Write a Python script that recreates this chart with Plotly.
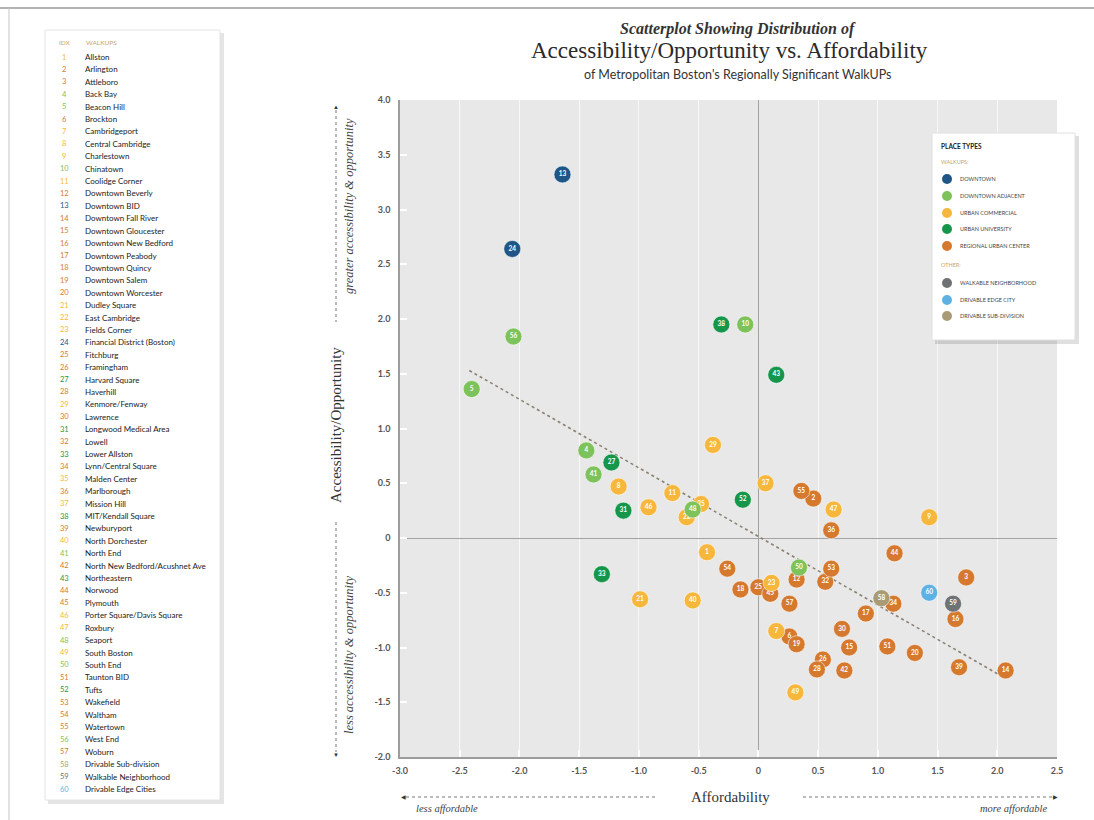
import plotly.graph_objects as go

# ---------------- data ----------------
ids = list(range(1, 61))
names = ["Allston", "Arlington", "Attleboro", "Back Bay", "Beacon Hill", "Brockton",
         "Cambridgeport", "Central Cambridge", "Charlestown", "Chinatown", "Coolidge Corner",
         "Downtown Beverly", "Downtown BID", "Downtown Fall River", "Downtown Gloucester",
         "Downtown New Bedford", "Downtown Peabody", "Downtown Quincy", "Downtown Salem",
         "Downtown Worcester", "Dudley Square", "East Cambridge", "Fields Corner",
         "Financial District (Boston)", "Fitchburg", "Framingham", "Harvard Square",
         "Haverhill", "Kenmore/Fenway", "Lawrence", "Longwood Medical Area", "Lowell",
         "Lower Allston", "Lynn/Central Square", "Malden Center", "Marlborough",
         "Mission Hill", "MIT/Kendall Square", "Newburyport", "North Dorchester",
         "North End", "North New Bedford/Acushnet Ave", "Northeastern", "Norwood",
         "Plymouth", "Porter Square/Davis Square", "Roxbury", "Seaport", "South Boston",
         "South End", "Taunton BID", "Tufts", "Wakefield", "Waltham", "Watertown",
         "West End", "Woburn", "Drivable Sub-division", "Walkable Neighborhood",
         "Drivable Edge Cities"]

D, DA, UC, UU, RUC = "DOWNTOWN", "DOWNTOWN ADJACENT", "URBAN COMMERCIAL", "URBAN UNIVERSITY", "REGIONAL URBAN CENTER"
WN, DEC, DS = "WALKABLE NEIGHBORHOOD", "DRIVABLE EDGE CITY", "DRIVABLE SUB-DIVISION"

categories = [UC, RUC, RUC, DA, DA, RUC, UC, UC, UC, DA,
              UC, RUC, D, RUC, RUC, RUC, RUC, RUC, RUC, RUC,
              UC, UC, UC, D, RUC, RUC, UU, RUC, UC, RUC,
              UU, RUC, UU, RUC, UC, RUC, UC, UU, RUC, UC,
              DA, RUC, UU, RUC, RUC, UC, UC, DA, UC, DA,
              RUC, UU, RUC, RUC, RUC, DA, RUC, DS, WN, DEC]

affordability = [-0.43, 0.46, 1.74, -1.44, -2.40, 0.26, 0.15, -1.17, 1.43, -0.11,
                 -0.72, 0.32, -1.64, 2.07, 0.76, 1.65, 0.90, -0.15, 0.32, 1.31,
                 -0.99, -0.60, 0.11, -2.06, 0.00, 0.54, -1.23, 0.49, -0.38, 0.70,
                 -1.13, 0.56, -1.31, 1.13, -0.48, 0.61, 0.06, -0.31, 1.68, -0.55,
                 -1.38, 0.72, 0.15, 1.14, 0.10, -0.92, 0.63, -0.55, 0.31, 0.34,
                 1.08, -0.13, 0.61, -0.26, 0.36, -2.05, 0.26, 1.03, 1.63, 1.43]

accessibility = [-0.13, 0.36, -0.36, 0.80, 1.36, -0.90, -0.85, 0.47, 0.19, 1.95,
                 0.41, -0.38, 3.32, -1.21, -1.00, -0.74, -0.69, -0.47, -0.97, -1.05,
                 -0.56, 0.19, -0.41, 2.64, -0.45, -1.11, 0.69, -1.20, 0.85, -0.83,
                 0.25, -0.40, -0.33, -0.60, 0.31, 0.07, 0.50, 1.95, -1.18, -0.57,
                 0.58, -1.21, 1.49, -0.14, -0.51, 0.28, 0.26, 0.26, -1.41, -0.27,
                 -0.99, 0.35, -0.28, -0.28, 0.43, 1.84, -0.60, -0.55, -0.60, -0.50]

trend_x = [-2.42, 2.05]
trend_y = [1.53, -1.27]

x_ticks = [-3.0, -2.5, -2.0, -1.5, -1.0, -0.5, 0, 0.5, 1.0, 1.5, 2.0, 2.5]
x_ticktext = ["-3.0", "-2.5", "-2.0", "-1.5", "-1.0", "-0.5", "0", "0.5", "1.0", "1.5", "2.0", "2.5"]
y_ticks = [-2.0, -1.5, -1.0, -0.5, 0, 0.5, 1.0, 1.5, 2.0, 2.5, 3.0, 3.5, 4.0]
y_ticktext = ["-2.0", "-1.5", "-1.0", "-0.5", "0", "0.5", "1.0", "1.5", "2.0", "2.5", "3.0", "3.5", "4.0"]

walkup_types = [D, DA, UC, UU, RUC]
other_types = [WN, DEC, DS]
cat_colors = {
    D: "#1d5687",
    DA: "#7dc25a",
    UC: "#f6b73c",
    UU: "#16964b",
    RUC: "#d5792f",
    WN: "#6f7275",
    DEC: "#5fb1e3",
    DS: "#a99b76",
}

# ---------------- layout helpers (pixel -> paper) ----------------
W, H = 1094, 820
L, R, T, B = 400, 1057, 100, 757
PW, PH = R - L, B - T


def px(x):
    return (x - L) / PW


def py(y):
    return (B - y) / PH


SERIF = "Liberation Serif"
SANS = "Lato"
TAN = "#c6a56b"

fig = go.Figure()

# trend line
fig.add_trace(go.Scatter(x=trend_x, y=trend_y, mode="lines",
                         line=dict(color="#8c8274", width=1.6, dash="dot"),
                         hoverinfo="skip", showlegend=False))

# points by category
for cat in [RUC, UC, DA, UU, D, WN, DEC, DS]:
    idx = [i for i, c in enumerate(categories) if c == cat]
    fig.add_trace(go.Scatter(
        x=[affordability[i] for i in idx],
        y=[accessibility[i] for i in idx],
        mode="markers+text",
        text=[str(ids[i]) for i in idx],
        textposition="middle center",
        textfont=dict(family=SANS, size=6.5, color="white", weight="bold"),
        marker=dict(size=17, color=cat_colors[cat],
                    line=dict(color="rgba(255,255,255,0.55)", width=1)),
        name=cat, showlegend=False,
        hovertext=[names[i] for i in idx], hoverinfo="text"))

shapes = []
annotations = []

# frame lines
shapes.append(dict(type="line", xref="paper", yref="paper", x0=px(0), x1=px(W), y0=py(8), y1=py(8),
                   line=dict(color="#9a9a9a", width=1.5), layer="above"))
shapes.append(dict(type="line", xref="paper", yref="paper", x0=px(9), x1=px(9), y0=py(8), y1=py(H),
                   line=dict(color="#c4c4c4", width=1), layer="above"))

# left list panel
shapes.append(dict(type="rect", xref="paper", yref="paper", x0=px(48), x1=px(224), y0=py(33), y1=py(804),
                   fillcolor="rgba(0,0,0,0.10)", line=dict(width=0), layer="below"))
shapes.append(dict(type="rect", xref="paper", yref="paper", x0=px(45), x1=px(220), y0=py(30), y1=py(800),
                   fillcolor="white", line=dict(color="#e4e4e4", width=1), layer="below"))
annotations.append(dict(xref="paper", yref="paper", x=px(57), y=py(43), text="IDX", showarrow=False,
                        xanchor="left", yanchor="middle", font=dict(family=SANS, size=6.5, color=TAN)))
annotations.append(dict(xref="paper", yref="paper", x=px(84), y=py(43), text="WALKUPS", showarrow=False,
                        xanchor="left", yanchor="middle", font=dict(family=SANS, size=6.5, color=TAN)))
row0, step = 57.0, (789.0 - 57.0) / 59
for i in range(60):
    yy = row0 + i * step
    annotations.append(dict(xref="paper", yref="paper", x=px(64), y=py(yy), text=str(ids[i]),
                            showarrow=False, xanchor="center", yanchor="middle",
                            font=dict(family=SANS, size=7.5, color=cat_colors[categories[i]])))
    annotations.append(dict(xref="paper", yref="paper", x=px(83), y=py(yy), text=names[i],
                            showarrow=False, xanchor="left", yanchor="middle",
                            font=dict(family=SANS, size=8, color="#222")))

# titles
annotations.append(dict(xref="paper", yref="paper", x=px(738), y=py(29), text="<b><i>Scatterplot Showing Distribution of</i></b>",
                        showarrow=False, xanchor="center", yanchor="middle",
                        font=dict(family=SERIF, size=16, color="#333")))
annotations.append(dict(xref="paper", yref="paper", x=px(729), y=py(51), text="Accessibility/Opportunity vs. Affordability",
                        showarrow=False, xanchor="center", yanchor="middle",
                        font=dict(family=SERIF, size=23, color="#2a2a2a")))
annotations.append(dict(xref="paper", yref="paper", x=px(738), y=py(75), text="of Metropolitan Boston's Regionally Significant WalkUPs",
                        showarrow=False, xanchor="center", yanchor="middle",
                        font=dict(family=SANS, size=12.5, color="#333")))

# x-axis title and arrows
annotations.append(dict(xref="paper", yref="paper", x=px(730), y=py(797), text="Affordability",
                        showarrow=False, xanchor="center", yanchor="middle",
                        font=dict(family=SERIF, size=15, color="#333")))
shapes.append(dict(type="line", xref="paper", yref="paper", x0=px(406), x1=px(657), y0=py(797), y1=py(797),
                   line=dict(color="#777", width=1, dash="dot")))
shapes.append(dict(type="line", xref="paper", yref="paper", x0=px(803), x1=px(1052), y0=py(797), y1=py(797),
                   line=dict(color="#777", width=1, dash="dot")))
annotations.append(dict(xref="paper", yref="paper", x=px(403), y=py(797), text="◀", showarrow=False,
                        xanchor="center", yanchor="middle", font=dict(size=6, color="#333")))
annotations.append(dict(xref="paper", yref="paper", x=px(1055), y=py(797), text="▶", showarrow=False,
                        xanchor="center", yanchor="middle", font=dict(size=6, color="#333")))
annotations.append(dict(xref="paper", yref="paper", x=px(414), y=py(808), text="<i>less affordable</i>",
                        showarrow=False, xanchor="left", yanchor="middle",
                        font=dict(family=SERIF, size=10.5, color="#444")))
annotations.append(dict(xref="paper", yref="paper", x=px(1050), y=py(808), text="<i>more affordable</i>",
                        showarrow=False, xanchor="right", yanchor="middle",
                        font=dict(family=SERIF, size=10.5, color="#444")))

# y-axis title and arrows
annotations.append(dict(xref="paper", yref="paper", x=px(336), y=py(425), text="Accessibility/Opportunity",
                        showarrow=False, xanchor="center", yanchor="middle", textangle=-90,
                        font=dict(family=SERIF, size=15, color="#333")))
shapes.append(dict(type="line", xref="paper", yref="paper", x0=px(336), x1=px(336), y0=py(110), y1=py(322),
                   line=dict(color="#777", width=1, dash="dot")))
shapes.append(dict(type="line", xref="paper", yref="paper", x0=px(336), x1=px(336), y0=py(522), y1=py(752),
                   line=dict(color="#777", width=1, dash="dot")))
annotations.append(dict(xref="paper", yref="paper", x=px(336), y=py(107), text="▲", showarrow=False,
                        xanchor="center", yanchor="middle", font=dict(size=6, color="#333")))
annotations.append(dict(xref="paper", yref="paper", x=px(336), y=py(755), text="▼", showarrow=False,
                        xanchor="center", yanchor="middle", font=dict(size=6, color="#333")))
annotations.append(dict(xref="paper", yref="paper", x=px(349), y=py(206), text="<i>greater accessibility &amp; opportunity</i>",
                        showarrow=False, xanchor="center", yanchor="middle", textangle=-90,
                        font=dict(family=SERIF, size=12.5, color="#444")))
annotations.append(dict(xref="paper", yref="paper", x=px(349), y=py(655), text="<i>less accessibility &amp; opportunity</i>",
                        showarrow=False, xanchor="center", yanchor="middle", textangle=-90,
                        font=dict(family=SERIF, size=12.5, color="#444")))

# place types legend box
shapes.append(dict(type="rect", xref="paper", yref="paper", x0=px(935), x1=px(1079), y0=py(136), y1=py(344),
                   fillcolor="rgba(0,0,0,0.12)", line=dict(width=0), layer="above"))
shapes.append(dict(type="rect", xref="paper", yref="paper", x0=px(932), x1=px(1075), y0=py(133), y1=py(340),
                   fillcolor="white", line=dict(color="#e0e0e0", width=1), layer="above"))
annotations.append(dict(xref="paper", yref="paper", x=px(939), y=py(146), text="<b>PLACE TYPES</b>",
                        showarrow=False, xanchor="left", yanchor="middle",
                        font=dict(family=SANS, size=6.5, color="#222")))
annotations.append(dict(xref="paper", yref="paper", x=px(939), y=py(162), text="WALKUPS:",
                        showarrow=False, xanchor="left", yanchor="middle",
                        font=dict(family=SANS, size=5.5, color=TAN)))
annotations.append(dict(xref="paper", yref="paper", x=px(939), y=py(265), text="OTHER:",
                        showarrow=False, xanchor="left", yanchor="middle",
                        font=dict(family=SANS, size=5.5, color=TAN)))
leg_y = {D: 179, DA: 196, UC: 213, UU: 229, RUC: 246, WN: 283, DEC: 300, DS: 316}
for cat in walkup_types + other_types:
    yy = leg_y[cat]
    r = 5
    shapes.append(dict(type="circle", xref="paper", yref="paper",
                       x0=px(947 - r), x1=px(947 + r), y0=py(yy + r), y1=py(yy - r),
                       fillcolor=cat_colors[cat], line=dict(width=0), layer="above"))
    annotations.append(dict(xref="paper", yref="paper", x=px(958), y=py(yy), text=cat,
                            showarrow=False, xanchor="left", yanchor="middle",
                            font=dict(family=SANS, size=5.5, color="#444")))

fig.update_layout(
    width=W, height=H,
    margin=dict(l=L, r=W - R, t=T, b=H - B, autoexpand=False),
    paper_bgcolor="white", plot_bgcolor="#e8e8e8",
    showlegend=False,
    shapes=shapes, annotations=annotations,
    xaxis=dict(range=[-3.0, 2.5], tickvals=x_ticks, ticktext=x_ticktext,
               showgrid=True, gridcolor="rgba(255,255,255,0.7)", gridwidth=1,
               zeroline=True, zerolinecolor="#a3a3a3", zerolinewidth=1,
               showline=True, linecolor="#9c9c9c", linewidth=1.5,
               ticks="inside", tickcolor="white", ticklen=7, tickwidth=1.5,
               ticklabelstandoff=4,
               tickfont=dict(family=SANS, size=9, color="#555", weight="bold"), fixedrange=True),
    yaxis=dict(range=[-2.0, 4.0], tickvals=y_ticks, ticktext=y_ticktext,
               showgrid=False,
               zeroline=True, zerolinecolor="#a3a3a3", zerolinewidth=1,
               showline=True, linecolor="#9c9c9c", linewidth=1.5,
               ticks="inside", tickcolor="white", ticklen=7, tickwidth=1.5,
               ticklabelstandoff=6,
               tickfont=dict(family=SANS, size=9, color="#555", weight="bold"), fixedrange=True),
)

fig.write_html("out.html", config={"displayModeBar": False},
               post_script="document.body.style.margin='0';")
